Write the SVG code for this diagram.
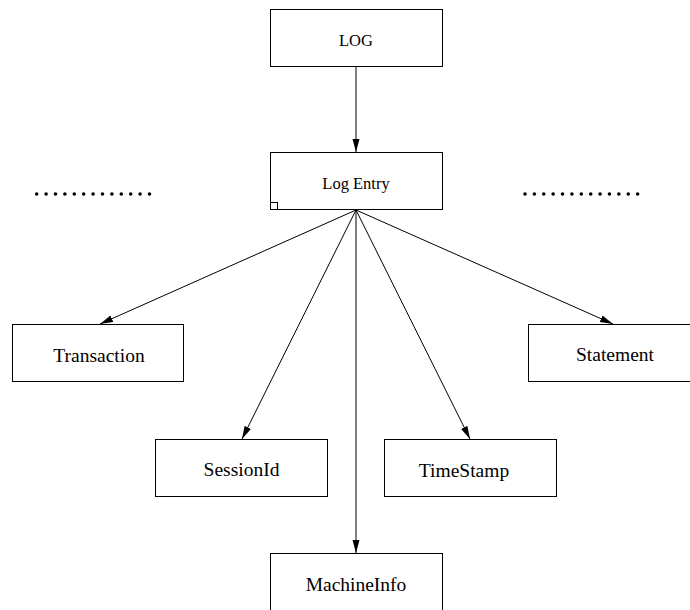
<svg xmlns="http://www.w3.org/2000/svg" width="690" height="610" viewBox="0 0 690 610">
<style>
.box{fill:#fff;stroke:#000;stroke-width:1}
.t{font-family:"Liberation Serif","Times New Roman",serif;fill:#000;text-anchor:middle}
.s{font-size:16.5px}
.b{font-size:19.5px}
.edge{stroke:#000;stroke-width:1;fill:none;marker-end:url(#arr)}
.dots{stroke:#000;stroke-width:3.6;stroke-linecap:round;fill:none}
</style>
<defs>
<marker id="arr" markerUnits="userSpaceOnUse" markerWidth="13" markerHeight="8" refX="13" refY="3.5" orient="auto">
<path d="M0,0 L13,3.5 L0,7 z" fill="#000"/>
</marker>
</defs>
<g id="connectors">
<line class="edge" x1="356" y1="66" x2="356" y2="152"/>
<line class="edge" x1="356" y1="210" x2="100" y2="324"/>
<line class="edge" x1="356" y1="210" x2="613" y2="324"/>
<line class="edge" x1="356" y1="210" x2="242" y2="439"/>
<line class="edge" x1="356" y1="210" x2="470" y2="439"/>
<line class="edge" x1="356" y1="210" x2="356" y2="553"/>
</g>
<g id="log">
<rect class="box" x="270.5" y="9.5" width="172" height="57"/>
<text class="t s" x="356" y="46">LOG</text>
</g>
<g id="logentry">
<rect class="box" x="270.5" y="152.5" width="172" height="57"/>
<rect class="box" x="270.5" y="202.5" width="7" height="7"/>
<text class="t s" x="356" y="189">Log Entry</text>
</g>
<g id="dots-left">
<line class="dots" x1="36.7" y1="194" x2="149.5" y2="194" stroke-dasharray="0 9.4"/>
</g>
<g id="dots-right">
<line class="dots" x1="525" y1="194" x2="647" y2="194" stroke-dasharray="0 9.385"/>
</g>
<g id="transaction">
<rect class="box" x="12.5" y="324.5" width="171" height="57"/>
<text class="t b" x="99" y="361.5">Transaction</text>
</g>
<g id="statement">
<rect class="box" x="528.5" y="324.5" width="172" height="57"/>
<text class="t b" x="615" y="361">Statement</text>
</g>
<g id="sessionid">
<rect class="box" x="155.5" y="439.5" width="172" height="57"/>
<text class="t b" x="241.5" y="476">SessionId</text>
</g>
<g id="timestamp">
<rect class="box" x="384.5" y="439.5" width="172" height="57"/>
<text class="t b" x="464" y="476.5">TimeStamp</text>
</g>
<g id="machineinfo">
<rect class="box" x="270.5" y="553.5" width="172" height="70"/>
<text class="t b" x="356" y="590.5">MachineInfo</text>
</g>
</svg>
